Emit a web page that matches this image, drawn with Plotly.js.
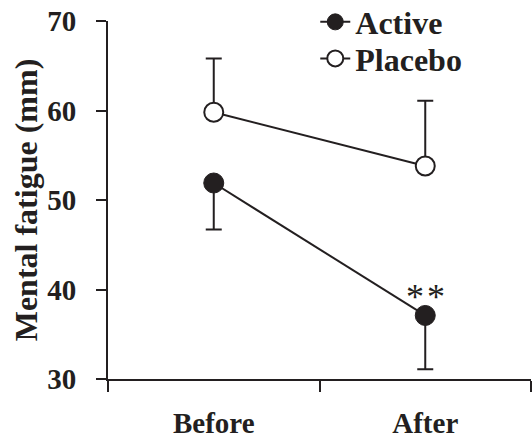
<!DOCTYPE html>
<html>
<head>
<meta charset="utf-8">
<script src="https://cdn.plot.ly/plotly-3.0.1.min.js"></script>
<style>html,body{margin:0;padding:0;background:#fff;}#chart{width:532px;height:439px;}</style>
</head>
<body>
<div id="chart"></div>
<script>
var categories = ["Before", "After"];
var activeMean = [51.9, 37.1];
var activeErrMinus = [5.2, 6.0];
var placeboMean = [59.8, 53.8];
var placeboErrPlus = [6.0, 7.3];
var yTicks = [30, 40, 50, 60, 70];
var sigLabel = "*\u200A*";

var ink = "#231f20";
var serif = "'Liberation Serif', 'Times New Roman', serif";
var legendFont = {family: serif, size: 32, color: ink, weight: "bold"};

var traces = [
  {
    x: categories, y: activeMean, name: "Active", type: "scatter", mode: "lines+markers",
    legend: "legend",
    line: {color: ink, width: 2},
    marker: {symbol: "circle", size: 20, color: ink, line: {color: ink, width: 1}},
    error_y: {type: "data", symmetric: false, array: [0, 0], arrayminus: activeErrMinus,
              color: ink, thickness: 2, width: 8}
  },
  {
    x: categories, y: placeboMean, name: "Placebo", type: "scatter", mode: "lines+markers",
    legend: "legend2",
    line: {color: ink, width: 2},
    marker: {symbol: "circle", size: 19, color: "#ffffff", line: {color: ink, width: 2}},
    error_y: {type: "data", symmetric: false, array: placeboErrPlus, arrayminus: [0, 0],
              color: ink, thickness: 2, width: 8}
  }
];

var layout = {
  width: 532, height: 439,
  margin: {l: 108, r: 1, t: 21, b: 60, autoexpand: false},
  paper_bgcolor: "#ffffff", plot_bgcolor: "#ffffff",
  showlegend: true,
  legend: {x: 0.49, xanchor: "left", y: 0.997, yanchor: "middle",
           font: legendFont, bgcolor: "rgba(0,0,0,0)"},
  legend2: {x: 0.49, xanchor: "left", y: 0.895, yanchor: "middle",
           font: legendFont, bgcolor: "rgba(0,0,0,0)"},
  xaxis: {
    type: "category", range: [-0.5, 1.5],
    showline: true, linecolor: ink, linewidth: 2,
    showgrid: false, zeroline: false,
    ticks: "outside", tickson: "boundaries", ticklen: 11, tickwidth: 2, tickcolor: ink,
    tickfont: {family: serif, size: 29, color: ink, weight: "bold"},
    ticklabelstandoff: 17
  },
  yaxis: {
    range: [30, 70], tickvals: yTicks,
    showline: true, linecolor: ink, linewidth: 2,
    showgrid: false, zeroline: false,
    ticks: "outside", ticklen: 10, tickwidth: 2, tickcolor: ink,
    tickfont: {family: serif, size: 29, color: ink, weight: "bold"},
    ticklabelstandoff: 14,
    title: {text: "Mental fatigue (mm)", font: {family: serif, size: 32, color: ink, weight: "bold"}, standoff: 0}
  },
  annotations: [
    {x: "After", y: 39.2, xref: "x", yref: "y", text: sigLabel, showarrow: false,
     font: {family: serif, size: 36, color: ink}, xanchor: "center", yanchor: "middle"}
  ]
};

Plotly.newPlot("chart", traces, layout, {displayModeBar: false, staticPlot: true});
</script>
</body>
</html>
